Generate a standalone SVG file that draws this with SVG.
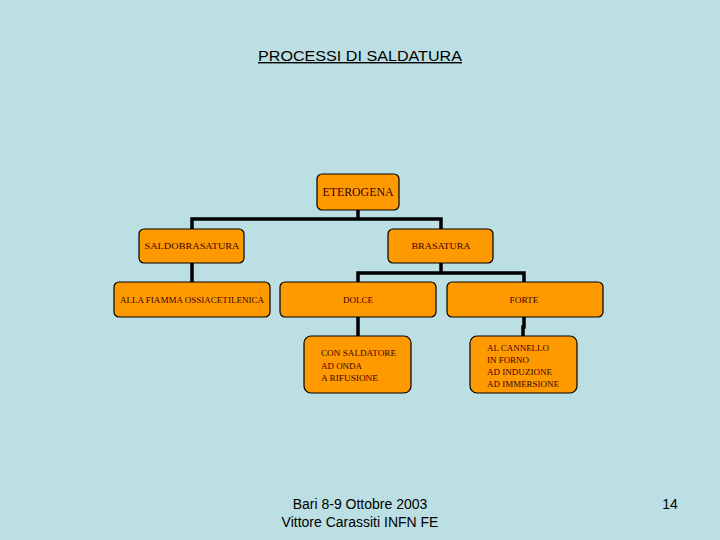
<svg xmlns="http://www.w3.org/2000/svg" width="720" height="540" viewBox="0 0 720 540">
<style>
.bg{fill:#BBDFE3}
.box{fill:#FF9900;stroke:#000;stroke-width:1.2}
.lbl{font-family:"Liberation Serif","DejaVu Serif",serif;font-size:9px;fill:#3A0000}
.big{font-size:12px}
.conn{fill:none;stroke:#000;stroke-width:3.5}
.sans{font-family:"Liberation Sans",Arial,sans-serif;font-size:14px;fill:#000}
</style>
<rect class="bg" x="0" y="0" width="720" height="540"/>
<text class="sans" x="360" y="61" text-anchor="middle" textLength="204" lengthAdjust="spacingAndGlyphs" text-decoration="underline">PROCESSI DI SALDATURA</text>
<g id="connectors">
<polyline class="conn" points="358,210 358,219"/>
<polyline class="conn" points="192,229 192,219 441,219 441,229"/>
<polyline class="conn" points="192,263 192,282"/>
<polyline class="conn" points="441,263 441,273"/>
<polyline class="conn" points="358,282 358,273 524,273 524,282"/>
<polyline class="conn" points="358,317 358,336"/>
<polyline class="conn" points="524,317 524,327 523,327 523,336"/>
</g>
<g id="eterogena">
<rect class="box" x="317" y="174" width="82" height="36" rx="5"/>
<text class="lbl big" x="358" y="196" text-anchor="middle" textLength="71" lengthAdjust="spacingAndGlyphs">ETEROGENA</text>
</g>
<g id="saldobrasatura">
<rect class="box" x="139" y="229" width="105" height="34" rx="5"/>
<text class="lbl" x="192" y="249" text-anchor="middle" textLength="95" lengthAdjust="spacingAndGlyphs">SALDOBRASATURA</text>
</g>
<g id="brasatura">
<rect class="box" x="388" y="229" width="105" height="34" rx="5"/>
<text class="lbl" x="441" y="249" text-anchor="middle" textLength="59" lengthAdjust="spacingAndGlyphs">BRASATURA</text>
</g>
<g id="alla-fiamma">
<rect class="box" x="114" y="282" width="156" height="35" rx="5"/>
<text class="lbl" x="192" y="303" text-anchor="middle" textLength="144" lengthAdjust="spacingAndGlyphs">ALLA FIAMMA OSSIACETILENICA</text>
</g>
<g id="dolce">
<rect class="box" x="280" y="282" width="156" height="35" rx="5"/>
<text class="lbl" x="358" y="303" text-anchor="middle" textLength="30" lengthAdjust="spacingAndGlyphs">DOLCE</text>
</g>
<g id="forte">
<rect class="box" x="447" y="282" width="156" height="35" rx="5"/>
<text class="lbl" x="524" y="303" text-anchor="middle" textLength="29" lengthAdjust="spacingAndGlyphs">FORTE</text>
</g>
<g id="dolce-metodi">
<rect class="box" x="304" y="336" width="107" height="57" rx="7"/>
<text class="lbl" x="321" y="356" textLength="75" lengthAdjust="spacingAndGlyphs">CON SALDATORE</text>
<text class="lbl" x="321" y="368.5" textLength="41" lengthAdjust="spacingAndGlyphs">AD ONDA</text>
<text class="lbl" x="321" y="381" textLength="57" lengthAdjust="spacingAndGlyphs">A RIFUSIONE</text>
</g>
<g id="forte-metodi">
<rect class="box" x="470" y="336" width="107" height="57" rx="7"/>
<text class="lbl" x="487" y="350.5" textLength="62" lengthAdjust="spacingAndGlyphs">AL CANNELLO</text>
<text class="lbl" x="487" y="362.5" textLength="42" lengthAdjust="spacingAndGlyphs">IN FORNO</text>
<text class="lbl" x="487" y="374.5" textLength="65" lengthAdjust="spacingAndGlyphs">AD INDUZIONE</text>
<text class="lbl" x="487" y="386.5" textLength="72" lengthAdjust="spacingAndGlyphs">AD IMMERSIONE</text>
</g>
<text class="sans" x="360" y="509" text-anchor="middle">Bari 8-9 Ottobre 2003</text>
<text class="sans" x="360" y="527" text-anchor="middle">Vittore Carassiti INFN FE</text>
<text class="sans" x="670" y="509" text-anchor="middle">14</text>
</svg>
